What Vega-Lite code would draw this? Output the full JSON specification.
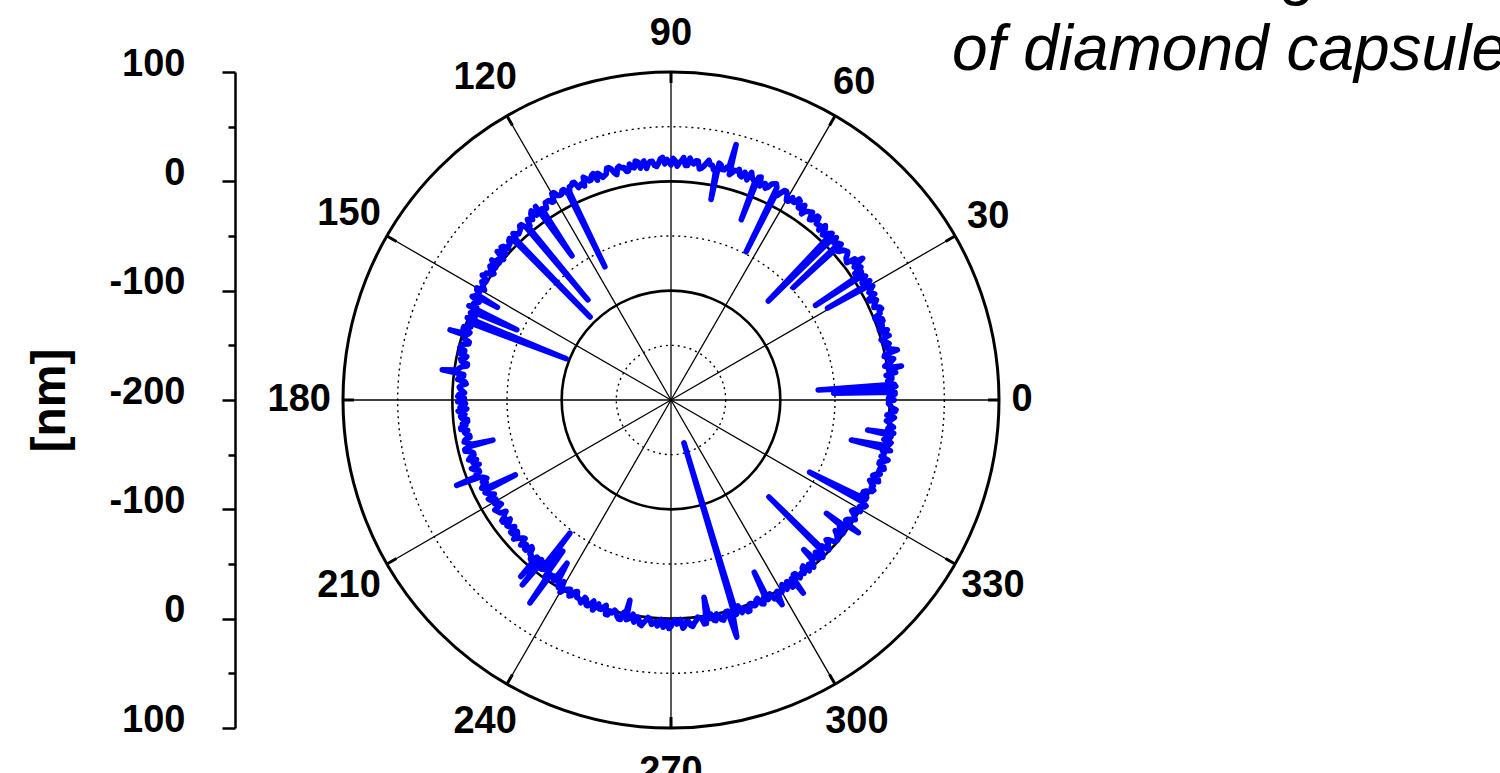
{
  "$schema": "https://vega.github.io/schema/vega-lite/v6.json",
  "width": 656,
  "height": 656,
  "autosize": {"type": "none"},
  "padding": {"left": 343, "top": 72, "right": 501, "bottom": 45},
  "background": "white",
  "config": {"view": {"stroke": null}, "font": "Liberation Sans"},
  "resolve": {"axis": {"x": "independent", "y": "independent"}},
  "datasets": {
    "angles": [{"a":0},{"a":30},{"a":60},{"a":90},{"a":120},{"a":150},{"a":180},{"a":210},{"a":240},{"a":270},{"a":300},{"a":330}],
    "circles": [{"rr":300,"kind":"outer"},{"rr":200,"kind":"solid"},{"rr":100,"kind":"solid"},{"rr":250,"kind":"dotted"},{"rr":150,"kind":"dotted"},{"rr":50,"kind":"dotted"}],
    "ring": [
{"a":0,"r":4},{"a":1,"r":0},{"a":2,"r":5},{"a":2.4,"r":-51},{"a":3,"r":1},{"a":3.9,"r":-65},{"a":4,"r":5},{"a":5,"r":-1},{"a":6,"r":3},{"a":7,"r":7},{"a":8,"r":1},{"a":8.4,"r":13},{"a":9,"r":-2},{"a":10,"r":5},{"a":11,"r":3},{"a":12,"r":0},{"a":12.5,"r":12},{"a":13,"r":7},{"a":14,"r":2},{"a":15,"r":4},{"a":16,"r":0},{"a":17,"r":6},{"a":18,"r":8},{"a":19,"r":4},{"a":20,"r":2},{"a":21,"r":7},{"a":22,"r":1},{"a":23,"r":7},{"a":24,"r":9},{"a":25,"r":5},{"a":26,"r":9},{"a":27,"r":3},{"a":28,"r":8},{"a":29,"r":9},{"a":30,"r":6},{"a":30.4,"r":-34},{"a":31,"r":12},{"a":32,"r":7},{"a":33,"r":5},{"a":33.2,"r":-42},{"a":34,"r":10},{"a":35,"r":12},{"a":36,"r":7},{"a":36.5,"r":18},{"a":37,"r":9},{"a":38,"r":4},{"a":39,"r":6},{"a":40,"r":11},{"a":41,"r":9},{"a":42,"r":4},{"a":42.6,"r":-48},{"a":43,"r":10},{"a":44,"r":7},{"a":45,"r":8},{"a":45.5,"r":-73},{"a":46,"r":12},{"a":47,"r":6},{"a":48,"r":11},{"a":49,"r":6},{"a":50,"r":9},{"a":51,"r":15},{"a":52,"r":9},{"a":53,"r":15},{"a":54,"r":13},{"a":55,"r":8},{"a":56,"r":11},{"a":57,"r":17},{"a":58,"r":13},{"a":59,"r":16},{"a":60,"r":11},{"a":61,"r":18},{"a":62,"r":15},{"a":63,"r":13},{"a":63.1,"r":-48},{"a":64,"r":20},{"a":65,"r":18},{"a":66,"r":12},{"a":67,"r":15},{"a":68,"r":20},{"a":68.7,"r":-23},{"a":69,"r":14},{"a":70,"r":17},{"a":71,"r":13},{"a":72,"r":19},{"a":73,"r":15},{"a":74,"r":18},{"a":75,"r":15},{"a":75.7,"r":41},{"a":76,"r":20},{"a":77,"r":16},{"a":78,"r":20},{"a":78.7,"r":-13},{"a":79,"r":14},{"a":80,"r":18},{"a":81,"r":22},{"a":82,"r":16},{"a":83,"r":13},{"a":84,"r":20},{"a":85,"r":18},{"a":86,"r":15},{"a":87,"r":22},{"a":88,"r":17},{"a":89,"r":19},{"a":90,"r":15},{"a":91,"r":20},{"a":92,"r":22},{"a":93,"r":17},{"a":94,"r":15},{"a":95,"r":19},{"a":96,"r":13},{"a":97,"r":18},{"a":98,"r":20},{"a":99,"r":15},{"a":100,"r":19},{"a":101,"r":13},{"a":102,"r":17},{"a":103,"r":18},{"a":104,"r":14},{"a":105,"r":20},{"a":106,"r":15},{"a":107,"r":13},{"a":108,"r":18},{"a":109,"r":19},{"a":110,"r":14},{"a":111,"r":17},{"a":112,"r":11},{"a":113,"r":13},{"a":114,"r":18},{"a":115,"r":16},{"a":116,"r":11},{"a":116.4,"r":-64},{"a":117,"r":16},{"a":118,"r":13},{"a":119,"r":14},{"a":120,"r":18},{"a":121,"r":11},{"a":122,"r":14},{"a":123,"r":9},{"a":124,"r":11},{"a":124.5,"r":-40},{"a":125,"r":16},{"a":126,"r":9},{"a":127,"r":13},{"a":128,"r":10},{"a":129,"r":5},{"a":129.7,"r":-81},{"a":130,"r":6},{"a":131,"r":11},{"a":132,"r":7},{"a":133,"r":8},{"a":134,"r":3},{"a":134.3,"r":-94},{"a":135,"r":9},{"a":136,"r":5},{"a":137,"r":3},{"a":138,"r":9},{"a":139,"r":7},{"a":140,"r":0},{"a":141,"r":4},{"a":142,"r":8},{"a":143,"r":1},{"a":144,"r":4},{"a":145,"r":0},{"a":146,"r":5},{"a":147,"r":1},{"a":148,"r":4},{"a":149,"r":0},{"a":150,"r":5},{"a":151,"r":1},{"a":151.9,"r":-20},{"a":152,"r":3},{"a":153,"r":-3},{"a":154,"r":1},{"a":155,"r":4},{"a":155.5,"r":-45},{"a":156,"r":-3},{"a":157,"r":-5},{"a":158,"r":1},{"a":158.5,"r":-97},{"a":159,"r":-2},{"a":160,"r":-5},{"a":161,"r":1},{"a":162,"r":-5},{"a":162.4,"r":12},{"a":163,"r":-3},{"a":164,"r":-8},{"a":165,"r":-3},{"a":166,"r":-1},{"a":167,"r":-6},{"a":168,"r":-9},{"a":169,"r":-4},{"a":170,"r":-11},{"a":171,"r":-6},{"a":172,"r":-3},{"a":172.5,"r":11},{"a":173,"r":-9},{"a":174,"r":-5},{"a":175,"r":-11},{"a":176,"r":-8},{"a":177,"r":-7},{"a":178,"r":-11},{"a":179,"r":-5},{"a":180,"r":-10},{"a":181,"r":-12},{"a":182,"r":-7},{"a":183,"r":-5},{"a":184,"r":-11},{"a":185,"r":-8},{"a":186,"r":-13},{"a":187,"r":-11},{"a":188,"r":-6},{"a":189,"r":-9},{"a":190,"r":-13},{"a":191,"r":-8},{"a":192,"r":-11},{"a":192.7,"r":-33},{"a":193,"r":-10},{"a":194,"r":-6},{"a":195,"r":-13},{"a":196,"r":-9},{"a":197,"r":-14},{"a":198,"r":-12},{"a":199,"r":-7},{"a":200,"r":-13},{"a":201,"r":-9},{"a":201.7,"r":11},{"a":202,"r":-11},{"a":203,"r":-17},{"a":204,"r":-15},{"a":205,"r":-9},{"a":205.7,"r":-42},{"a":206,"r":-14},{"a":207,"r":-12},{"a":208,"r":-17},{"a":209,"r":-11},{"a":210,"r":-14},{"a":211,"r":-17},{"a":212,"r":-10},{"a":213,"r":-12},{"a":214,"r":-18},{"a":215,"r":-14},{"a":216,"r":-10},{"a":217,"r":-15},{"a":218,"r":-12},{"a":219,"r":-16},{"a":220,"r":-10},{"a":221,"r":-14},{"a":222,"r":-11},{"a":223,"r":-15},{"a":224,"r":-9},{"a":225,"r":-13},{"a":226,"r":-9},{"a":227,"r":-14},{"a":228,"r":-9},{"a":229,"r":-5},{"a":229.6,"r":12},{"a":230,"r":-11},{"a":231,"r":-12},{"a":231.2,"r":17},{"a":232,"r":-5},{"a":232.8,"r":-47},{"a":233,"r":-6},{"a":234,"r":-9},{"a":234.4,"r":-30},{"a":235,"r":-1},{"a":235.2,"r":26},{"a":236,"r":-6},{"a":237,"r":-3},{"a":237.5,"r":-23},{"a":238,"r":-7},{"a":239,"r":0},{"a":240,"r":3},{"a":241,"r":-2},{"a":242,"r":-4},{"a":243,"r":1},{"a":244,"r":-5},{"a":245,"r":0},{"a":246,"r":3},{"a":247,"r":-2},{"a":248,"r":3},{"a":249,"r":-3},{"a":250,"r":1},{"a":251,"r":2},{"a":252,"r":-1},{"a":253,"r":5},{"a":254,"r":1},{"a":255,"r":-1},{"a":256,"r":4},{"a":257,"r":6},{"a":258,"r":1},{"a":258.4,"r":-13},{"a":259,"r":4},{"a":260,"r":-1},{"a":261,"r":1},{"a":262,"r":7},{"a":263,"r":5},{"a":264,"r":0},{"a":265,"r":6},{"a":266,"r":3},{"a":267,"r":4},{"a":268,"r":8},{"a":269,"r":2},{"a":270,"r":7},{"a":271,"r":1},{"a":272,"r":4},{"a":273,"r":9},{"a":274,"r":3},{"a":275,"r":7},{"a":276,"r":5},{"a":277,"r":0},{"a":278,"r":2},{"a":279,"r":7},{"a":279.5,"r":-17},{"a":280,"r":3},{"a":281,"r":5},{"a":282,"r":0},{"a":283,"r":6},{"a":284,"r":3},{"a":285,"r":0},{"a":285.5,"r":25},{"a":286,"r":7},{"a":286.8,"r":-159},{"a":287,"r":5},{"a":288,"r":-2},{"a":289,"r":2},{"a":290,"r":6},{"a":291,"r":0},{"a":292,"r":3},{"a":293,"r":-1},{"a":294,"r":4},{"a":295,"r":0},{"a":295.8,"r":-25},{"a":296,"r":3},{"a":297,"r":-1},{"a":298,"r":4},{"a":298.5,"r":13},{"a":299,"r":0},{"a":300,"r":3},{"a":301,"r":-3},{"a":302,"r":1},{"a":303,"r":4},{"a":304,"r":-3},{"a":304.4,"r":14},{"a":305,"r":-5},{"a":306,"r":1},{"a":307,"r":-2},{"a":308,"r":-5},{"a":309,"r":1},{"a":310,"r":-4},{"a":311,"r":-2},{"a":311.6,"r":-17},{"a":312,"r":-7},{"a":313,"r":-2},{"a":314,"r":0},{"a":315,"r":-6},{"a":315.3,"r":-74},{"a":316,"r":-8},{"a":317,"r":-3},{"a":318,"r":-9},{"a":319,"r":-3},{"a":320,"r":-1},{"a":321,"r":-5},{"a":322,"r":-1},{"a":323,"r":-7},{"a":323.9,"r":-24},{"a":324,"r":-3},{"a":324.7,"r":10},{"a":325,"r":-2},{"a":326,"r":-5},{"a":327,"r":1},{"a":328,"r":-3},{"a":329,"r":-5},{"a":330,"r":0},{"a":331,"r":2},{"a":332,"r":-3},{"a":332.5,"r":-57},{"a":333,"r":0},{"a":334,"r":-5},{"a":335,"r":-3},{"a":336,"r":3},{"a":337,"r":1},{"a":338,"r":-4},{"a":339,"r":3},{"a":340,"r":-1},{"a":341,"r":1},{"a":342,"r":5},{"a":343,"r":-1},{"a":344,"r":3},{"a":345,"r":-1},{"a":346,"r":1},{"a":347,"r":6},{"a":347.5,"r":-31},{"a":348,"r":0},{"a":349,"r":5},{"a":350,"r":3},{"a":351,"r":-3},{"a":351.3,"r":-18},{"a":352,"r":0},{"a":353,"r":5},{"a":354,"r":1},{"a":355,"r":3},{"a":356,"r":-2},{"a":357,"r":5},{"a":358,"r":2},{"a":359,"r":-1},{"a":360,"r":4},
{"a":0.5,"r":-1},{"a":1.5,"r":5},{"a":3.5,"r":6},{"a":4.5,"r":0},{"a":5.5,"r":3},{"a":6.5,"r":-2},{"a":7.5,"r":5},{"a":8.5,"r":3},{"a":9.5,"r":1},{"a":10.5,"r":7},{"a":11.5,"r":-1},{"a":13.5,"r":3},{"a":14.5,"r":6},{"a":15.5,"r":1},{"a":16.5,"r":8},{"a":17.5,"r":3},{"a":18.5,"r":1},{"a":19.5,"r":5},{"a":20.5,"r":7},{"a":21.5,"r":1},{"a":22.5,"r":7},{"a":23.5,"r":10},{"a":24.5,"r":4},{"a":25.5,"r":7},{"a":26.5,"r":3},{"a":27.5,"r":10},{"a":28.5,"r":6},{"a":29.5,"r":12},{"a":30.5,"r":7},{"a":31.5,"r":5},{"a":32.5,"r":11},{"a":33.5,"r":9},{"a":34.5,"r":4},{"a":35.5,"r":10},{"a":37.5,"r":12},{"a":38.5,"r":5},{"a":39.5,"r":9},{"a":40.5,"r":10},
{"a":41.5,"r":5},{"a":42.5,"r":11},{"a":43.5,"r":7},{"a":44.5,"r":12},{"a":46.5,"r":10},{"a":47.5,"r":5},{"a":48.5,"r":13},{"a":49.5,"r":10},{"a":50.5,"r":9},{"a":51.5,"r":15},{"a":52.5,"r":8},{"a":53.5,"r":14},{"a":54.5,"r":12},{"a":55.5,"r":16},{"a":56.5,"r":11},{"a":57.5,"r":18},{"a":58.5,"r":13},{"a":59.5,"r":11},{"a":60.5,"r":16},{"a":61.5,"r":18},{"a":62.5,"r":11},{"a":63.5,"r":17},{"a":64.5,"r":19},{"a":65.5,"r":14},{"a":66.5,"r":16},{"a":67.5,"r":12},{"a":68.5,"r":19},{"a":69.5,"r":15},{"a":70.5,"r":21},{"a":71.5,"r":16},{"a":72.5,"r":14},{"a":73.5,"r":20},{"a":74.5,"r":18},{"a":75.5,"r":13},{"a":76.5,"r":19},{"a":77.5,"r":16},{"a":78.5,"r":21},{"a":79.5,"r":14},{"a":80.5,"r":18},{"a":81.5,"r":19},
{"a":82.5,"r":14},{"a":83.5,"r":20},{"a":84.5,"r":17},{"a":85.5,"r":22},{"a":86.5,"r":15},{"a":87.5,"r":19},{"a":88.5,"r":14},{"a":89.5,"r":21},{"a":90.5,"r":18},{"a":91.5,"r":16},{"a":92.5,"r":21},{"a":93.5,"r":14},{"a":94.5,"r":19},{"a":95.5,"r":17},{"a":96.5,"r":20},{"a":97.5,"r":14},{"a":98.5,"r":21},{"a":99.5,"r":16},{"a":100.5,"r":13},{"a":101.5,"r":17},{"a":102.5,"r":19},{"a":103.5,"r":12},{"a":104.5,"r":18},{"a":105.5,"r":20},{"a":106.5,"r":14},{"a":107.5,"r":16},{"a":108.5,"r":12},{"a":109.5,"r":18},{"a":110.5,"r":14},{"a":111.5,"r":19},{"a":112.5,"r":14},{"a":113.5,"r":12},{"a":114.5,"r":18},{"a":115.5,"r":16},{"a":116.5,"r":10},{"a":117.5,"r":16},{"a":118.5,"r":13},{"a":119.5,"r":18},{"a":120.5,"r":11},{"a":121.5,"r":14},{"a":122.5,"r":14},
{"a":123.5,"r":9},{"a":125.5,"r":10},{"a":126.5,"r":15},{"a":127.5,"r":8},{"a":128.5,"r":11},{"a":129.5,"r":5},{"a":130.5,"r":11},{"a":131.5,"r":8},{"a":132.5,"r":6},{"a":133.5,"r":10},{"a":134.5,"r":2},{"a":135.5,"r":8},{"a":136.5,"r":5},{"a":137.5,"r":8},{"a":138.5,"r":2},{"a":139.5,"r":9},{"a":140.5,"r":3},{"a":141.5,"r":1},{"a":142.5,"r":5},{"a":143.5,"r":6},{"a":144.5,"r":-1},{"a":145.5,"r":5},{"a":146.5,"r":7},{"a":147.5,"r":1},{"a":148.5,"r":2},{"a":149.5,"r":-2},{"a":150.5,"r":4},{"a":151.5,"r":0},{"a":152.5,"r":5},{"a":153.5,"r":0},{"a":154.5,"r":-3},{"a":156.5,"r":0},{"a":157.5,"r":-6},{"a":159.5,"r":-4},{"a":160.5,"r":1},{"a":161.5,"r":-6},{"a":162.5,"r":-3},{"a":163.5,"r":-3},
{"a":164.5,"r":-8},{"a":165.5,"r":-2},{"a":166.5,"r":-6},{"a":167.5,"r":-2},{"a":168.5,"r":-8},{"a":169.5,"r":-5},{"a":170.5,"r":-11},{"a":171.5,"r":-4},{"a":173.5,"r":-9},{"a":174.5,"r":-4},{"a":175.5,"r":-12},{"a":176.5,"r":-6},{"a":177.5,"r":-9},{"a":178.5,"r":-6},{"a":179.5,"r":-11},{"a":180.5,"r":-5},{"a":181.5,"r":-10},{"a":182.5,"r":-13},{"a":183.5,"r":-8},{"a":184.5,"r":-7},{"a":185.5,"r":-13},{"a":186.5,"r":-8},{"a":187.5,"r":-6},{"a":188.5,"r":-12},{"a":189.5,"r":-10},{"a":190.5,"r":-13},{"a":191.5,"r":-7},{"a":192.5,"r":-11},{"a":193.5,"r":-6},{"a":194.5,"r":-11},{"a":195.5,"r":-13},{"a":196.5,"r":-7},{"a":197.5,"r":-10},{"a":198.5,"r":-15},{"a":199.5,"r":-9},{"a":200.5,"r":-13},{"a":201.5,"r":-8},{"a":202.5,"r":-15},{"a":203.5,"r":-12},{"a":204.5,"r":-11},
{"a":205.5,"r":-16},{"a":206.5,"r":-10},{"a":207.5,"r":-14},{"a":208.5,"r":-10},{"a":209.5,"r":-16},{"a":210.5,"r":-13},{"a":211.5,"r":-18},{"a":212.5,"r":-11},{"a":213.5,"r":-13},{"a":214.5,"r":-15},{"a":215.5,"r":-10},{"a":216.5,"r":-17},{"a":217.5,"r":-11},{"a":218.5,"r":-13},{"a":219.5,"r":-10},{"a":220.5,"r":-15},{"a":221.5,"r":-8},{"a":222.5,"r":-13},{"a":223.5,"r":-16},{"a":224.5,"r":-11},{"a":225.5,"r":-9},{"a":226.5,"r":-15},{"a":227.5,"r":-9},{"a":228.5,"r":-6},{"a":229.5,"r":-11},{"a":230.5,"r":-8},{"a":231.5,"r":-11},{"a":232.5,"r":-5},{"a":233.5,"r":-8},{"a":234.5,"r":-1},{"a":235.5,"r":-6},{"a":236.5,"r":-7},{"a":238.5,"r":-2},{"a":239.5,"r":-7},{"a":240.5,"r":0},{"a":241.5,"r":-3},{"a":242.5,"r":2},{"a":243.5,"r":-4},{"a":244.5,"r":0},{"a":245.5,"r":1},
{"a":246.5,"r":-3},{"a":247.5,"r":3},{"a":248.5,"r":0},{"a":249.5,"r":5},{"a":250.5,"r":-2},{"a":251.5,"r":2},{"a":252.5,"r":-3},{"a":253.5,"r":5},{"a":254.5,"r":2},{"a":255.5,"r":0},{"a":256.5,"r":6},{"a":257.5,"r":-1},{"a":258.5,"r":5},{"a":259.5,"r":3},{"a":260.5,"r":6},{"a":261.5,"r":1},{"a":262.5,"r":8},{"a":263.5,"r":3},{"a":264.5,"r":1},{"a":265.5,"r":5},{"a":266.5,"r":7},{"a":267.5,"r":1},{"a":268.5,"r":6},{"a":269.5,"r":9},{"a":270.5,"r":3},{"a":271.5,"r":5},{"a":272.5,"r":1},{"a":273.5,"r":7},{"a":274.5,"r":3},{"a":275.5,"r":8},{"a":276.5,"r":3},{"a":277.5,"r":1},{"a":278.5,"r":7},{"a":280.5,"r":-1},{"a":281.5,"r":6},{"a":282.5,"r":2},{"a":283.5,"r":7},{"a":284.5,"r":0},{"a":286.5,"r":4},
{"a":287.5,"r":-1},{"a":288.5,"r":5},{"a":289.5,"r":2},{"a":290.5,"r":6},{"a":291.5,"r":0},{"a":292.5,"r":3},{"a":293.5,"r":-2},{"a":294.5,"r":5},{"a":295.5,"r":2},{"a":296.5,"r":0},{"a":297.5,"r":5},{"a":299.5,"r":3},{"a":300.5,"r":1},{"a":301.5,"r":3},{"a":302.5,"r":-3},{"a":303.5,"r":4},{"a":304.5,"r":-2},{"a":305.5,"r":-5},{"a":306.5,"r":-1},{"a":307.5,"r":0},{"a":308.5,"r":-6},{"a":309.5,"r":-1},{"a":310.5,"r":1},{"a":311.5,"r":-6},{"a":312.5,"r":-4},{"a":313.5,"r":-8},{"a":314.5,"r":-2},{"a":315.5,"r":-6},{"a":316.5,"r":-1},{"a":317.5,"r":-5},{"a":318.5,"r":-7},{"a":319.5,"r":-1},{"a":320.5,"r":-3},{"a":321.5,"r":-8},{"a":322.5,"r":-1},{"a":323.5,"r":-5},{"a":324.5,"r":0},{"a":325.5,"r":-6},{"a":326.5,"r":-2},{"a":327.5,"r":-1},
{"a":328.5,"r":-6},{"a":329.5,"r":1},{"a":330.5,"r":-2},{"a":331.5,"r":3},{"a":333.5,"r":0},{"a":334.5,"r":-5},{"a":335.5,"r":2},{"a":336.5,"r":0},{"a":337.5,"r":-2},{"a":338.5,"r":4},{"a":339.5,"r":-3},{"a":340.5,"r":3},{"a":341.5,"r":1},{"a":342.5,"r":4},{"a":343.5,"r":-1},{"a":344.5,"r":6},{"a":345.5,"r":1},{"a":346.5,"r":-1},{"a":348.5,"r":4},{"a":349.5,"r":-2},{"a":350.5,"r":4},{"a":351.5,"r":6},{"a":352.5,"r":0},{"a":353.5,"r":2},{"a":354.5,"r":-2},{"a":355.5,"r":5},{"a":356.5,"r":1},{"a":357.5,"r":6},{"a":358.5,"r":1},{"a":359.5,"r":-1}
    ]
  },
  "layer": [
    {
      "data": {"name": "circles"},
      "transform": [{"filter": "datum.kind == 'outer'"}, {"calculate": "0", "as": "c"}],
      "mark": {"type": "point", "shape": "circle", "filled": false, "stroke": "black", "strokeWidth": 3, "opacity": 1},
      "encoding": {
        "x": {"field": "c", "type": "quantitative", "scale": {"domain": [-300, 300], "nice": false, "zero": false}, "axis": null},
        "y": {"field": "c", "type": "quantitative", "scale": {"domain": [-300, 300], "nice": false, "zero": false}, "axis": null},
        "size": {"field": "rr", "type": "quantitative", "scale": {"type": "pow", "exponent": 2, "domain": [0, 300], "range": [0, 430336], "zero": true}, "legend": null}
      }
    },
    {
      "data": {"name": "circles"},
      "transform": [{"filter": "datum.kind == 'solid'"}, {"calculate": "0", "as": "c"}],
      "mark": {"type": "point", "shape": "circle", "filled": false, "stroke": "black", "strokeWidth": 2.6, "opacity": 1},
      "encoding": {
        "x": {"field": "c", "type": "quantitative", "axis": null},
        "y": {"field": "c", "type": "quantitative", "axis": null},
        "size": {"field": "rr", "type": "quantitative", "legend": null}
      }
    },
    {
      "data": {"name": "circles"},
      "transform": [{"filter": "datum.kind == 'dotted'"}, {"calculate": "0", "as": "c"}],
      "mark": {"type": "point", "shape": "circle", "filled": false, "stroke": "black", "strokeWidth": 1.4, "strokeDash": [2, 4], "opacity": 1},
      "encoding": {
        "x": {"field": "c", "type": "quantitative", "axis": null},
        "y": {"field": "c", "type": "quantitative", "axis": null},
        "size": {"field": "rr", "type": "quantitative", "legend": null}
      }
    },
    {
      "data": {"name": "angles"},
      "transform": [
        {"calculate": "0", "as": "c"},
        {"calculate": "300 * cos(datum.a * PI / 180)", "as": "ex"},
        {"calculate": "300 * sin(datum.a * PI / 180)", "as": "ey"}
      ],
      "mark": {"type": "rule", "stroke": "black", "strokeWidth": 1.3},
      "encoding": {
        "x": {"field": "c", "type": "quantitative", "axis": null},
        "y": {"field": "c", "type": "quantitative", "axis": null},
        "x2": {"field": "ex"},
        "y2": {"field": "ey"}
      }
    },
    {
      "data": {"name": "angles"},
      "transform": [
        {"calculate": "290 * cos(datum.a * PI / 180)", "as": "sx"},
        {"calculate": "290 * sin(datum.a * PI / 180)", "as": "sy"},
        {"calculate": "300 * cos(datum.a * PI / 180)", "as": "ex"},
        {"calculate": "300 * sin(datum.a * PI / 180)", "as": "ey"}
      ],
      "mark": {"type": "rule", "stroke": "black", "strokeWidth": 3},
      "encoding": {
        "x": {"field": "sx", "type": "quantitative", "axis": null},
        "y": {"field": "sy", "type": "quantitative", "axis": null},
        "x2": {"field": "ex"},
        "y2": {"field": "ey"}
      }
    },
    {
      "data": {"name": "ring"},
      "transform": [
        {"calculate": "(datum.r + 200) * cos(datum.a * PI / 180)", "as": "px"},
        {"calculate": "(datum.r + 200) * sin(datum.a * PI / 180)", "as": "py"}
      ],
      "mark": {"type": "line", "stroke": "#0000ff", "strokeWidth": 5.6, "strokeJoin": "round", "strokeCap": "round"},
      "encoding": {
        "x": {"field": "px", "type": "quantitative", "axis": null},
        "y": {
          "field": "py", "type": "quantitative",
          "axis": {
            "orient": "left", "offset": 108,
            "values": [-300, -250, -200, -150, -100, -50, 0, 50, 100, 150, 200, 250, 300],
            "labelExpr": "datum.value % 100 == 0 ? abs(datum.value) - 200 : ''",
            "tickSize": {"condition": {"test": "datum.value % 100 == 0", "value": 13}, "value": 7},
            "tickWidth": 2.5, "tickColor": "black", "domainColor": "black", "domainWidth": 2.5,
            "labelFont": "Liberation Sans", "labelFontSize": 38, "labelFontWeight": "bold", "labelColor": "black",
            "labelPadding": 37, "labelOffset": -8, "labelFlush": false, "labelOverlap": false, "labelBound": false,
            "grid": false,
            "title": "[nm]", "titleFont": "Liberation Sans", "titleFontSize": 48, "titleFontWeight": "bold", "titleColor": "black", "titlePadding": 34
          }
        },
        "order": {"field": "a", "type": "quantitative"}
      }
    },
    {
      "data": {"name": "angles"},
      "transform": [
        {"calculate": "toString(datum.a)", "as": "lab"},
        {"calculate": "length(datum.lab) == 1 ? 321 : (length(datum.lab) == 2 ? 335 : 340)", "as": "lr"},
        {"calculate": "datum.lr * cos(datum.a * PI / 180)", "as": "lx"},
        {"calculate": "datum.lr * sin(datum.a * PI / 180)", "as": "ly"}
      ],
      "mark": {"type": "text", "font": "Liberation Sans", "fontSize": 38, "fontWeight": "bold", "align": "center", "baseline": "middle", "color": "black"},
      "encoding": {
        "x": {"field": "lx", "type": "quantitative", "axis": null},
        "y": {"field": "ly", "type": "quantitative", "axis": null},
        "text": {"field": "lab"}
      }
    },
    {
      "data": {"values": [{"tx": 257, "ty": 371.8}]},
      "mark": {"type": "text", "text": ["Surface roughness", "of diamond capsule"], "align": "left", "baseline": "alphabetic", "font": "Liberation Sans", "fontSize": 64, "fontStyle": "italic", "lineHeight": 77, "color": "black"},
      "encoding": {
        "x": {"field": "tx", "type": "quantitative", "axis": null},
        "y": {"field": "ty", "type": "quantitative", "axis": null}
      }
    }
  ]
}
